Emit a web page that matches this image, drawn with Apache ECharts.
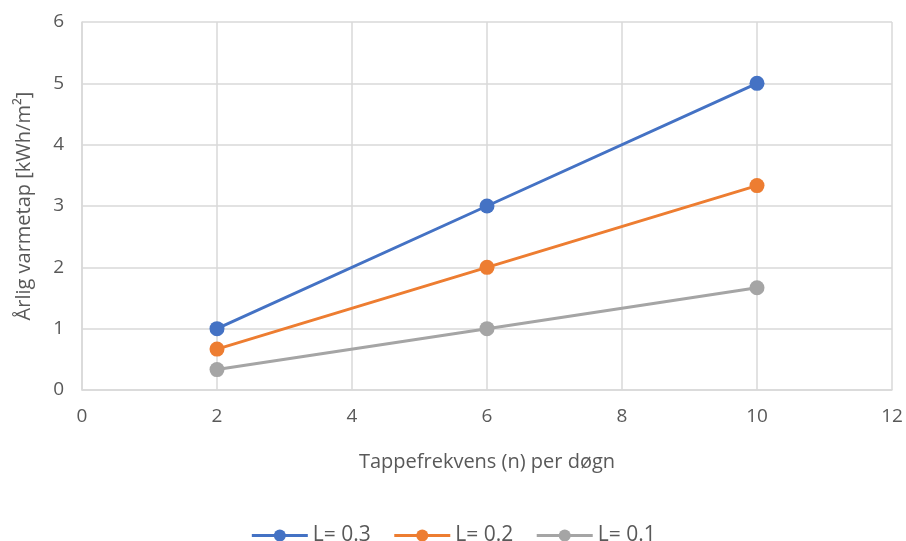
<!DOCTYPE html>
<html>
<head>
<meta charset="utf-8">
<script src="https://cdn.jsdelivr.net/npm/echarts@6/dist/echarts.min.js"></script>
<style>
  html, body { margin: 0; padding: 0; background: #fff; }
  #chart { width: 906px; height: 541px; }
</style>
</head>
<body>
<div id="chart"></div>
<script>
// Tappefrekvens per døgn
const xValues = [2, 6, 10];
const seriesNames = ['L= 0.3', 'L= 0.2', 'L= 0.1'];
const valuesL03 = [1, 3, 5];
const valuesL02 = [0.667, 2, 3.333];
const valuesL01 = [0.333, 1, 1.667];
const colors = ['#4472C4', '#ED7D31', '#A5A5A5'];

const seriesValues = [valuesL03, valuesL02, valuesL01];
const textColor = '#595959';
const font = 'Open Sans';

const chart = echarts.init(document.getElementById('chart'));
chart.setOption({
  animation: false,
  textStyle: { fontFamily: font },
  grid: { left: 82, right: 14, top: 22, bottom: 151 },
  legend: {
    top: 525,
    left: 'center',
    padding: 0,
    itemWidth: 56,
    itemHeight: 15,
    itemGap: 22,
    lineStyle: { width: 3 },
    textStyle: { color: textColor, fontSize: 21, fontFamily: font },
    data: seriesNames
  },
  xAxis: {
    type: 'value',
    min: 0, max: 12, interval: 2,
    name: 'Tappefrekvens (n) per døgn',
    nameLocation: 'middle',
    nameGap: 62,
    nameTextStyle: { color: textColor, fontSize: 20, fontFamily: font },
    axisLine: { show: true, lineStyle: { color: '#D9D9D9', width: 1.5 } },
    axisTick: { show: false },
    axisLabel: { color: textColor, fontSize: 19, margin: 17 },
    splitLine: { show: true, lineStyle: { color: '#D9D9D9', width: 1.5 } }
  },
  yAxis: {
    type: 'value',
    min: 0, max: 6, interval: 1,
    name: 'Årlig varmetap [kWh/m²]',
    nameLocation: 'middle',
    nameGap: 48,
    nameTextStyle: { color: textColor, fontSize: 20, fontFamily: font },
    axisLine: { show: true, lineStyle: { color: '#D9D9D9', width: 1.5 } },
    axisTick: { show: false },
    axisLabel: { color: textColor, fontSize: 19, margin: 18 },
    splitLine: { show: true, lineStyle: { color: '#D9D9D9', width: 1.5 } }
  },
  series: seriesNames.map((name, i) => ({
    name: name,
    type: 'line',
    data: xValues.map((x, j) => [x, seriesValues[i][j]]),
    symbol: 'circle',
    symbolSize: 15,
    lineStyle: { color: colors[i], width: 3 },
    itemStyle: { color: colors[i] },
    z: 10 - i
  }))
});
</script>
</body>
</html>
